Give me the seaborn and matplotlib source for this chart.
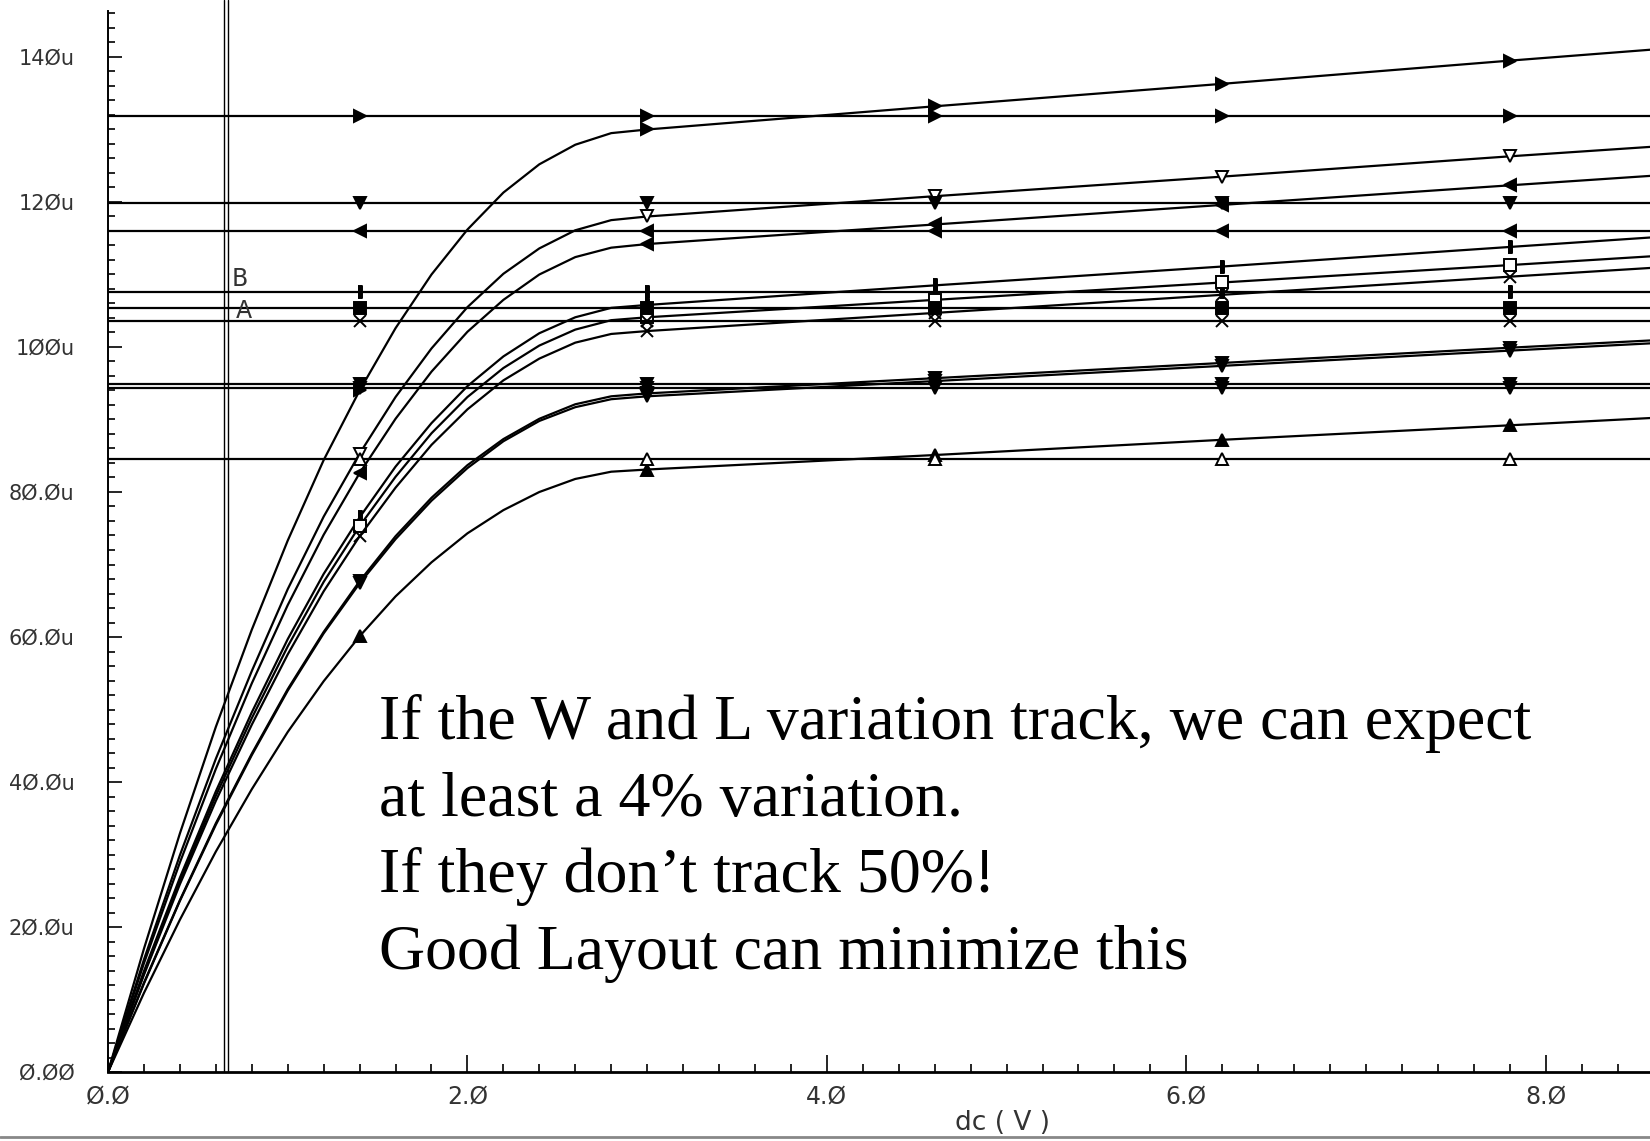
import numpy as np
import pandas as pd
import seaborn as sns
import matplotlib.pyplot as plt
from matplotlib.lines import Line2D

# sweep voltage (V) of the dc analysis, markers sit at 1.4 / 3.0 / 4.6 / 6.2 / 7.8
vds = [0.0, 0.2, 0.4, 0.6, 0.8, 1.0, 1.2, 1.4, 1.6, 1.8, 2.0, 2.2, 2.4, 2.6, 2.8, 3.0,
       4.6, 6.2, 7.8, 8.58]
mark_x = [1.4, 3.0, 4.6, 6.2, 7.8]

# drain current of the nine rising traces (uA)
id_1 = [0, 17.0, 32.9, 47.6, 61.0, 73.3, 84.4, 94.0, 102.6, 110.0, 116.2, 121.3, 125.2, 127.9, 129.5, 130.0,
        133.2, 136.3, 139.5, 141.0]
id_2 = [0, 15.5, 29.9, 43.2, 55.3, 66.6, 76.6, 85.3, 93.1, 99.8, 105.5, 110.1, 113.6, 116.1, 117.5, 118.0,
        120.8, 123.5, 126.3, 127.6]
id_3 = [0, 15.0, 28.9, 41.8, 53.6, 64.4, 74.1, 82.6, 90.1, 96.6, 102.1, 106.5, 110.0, 112.4, 113.7, 114.2,
        116.9, 119.6, 122.3, 123.6]
id_4 = [0, 13.9, 26.8, 38.7, 49.6, 59.7, 68.7, 76.5, 83.5, 89.5, 94.6, 98.7, 101.9, 104.1, 105.4, 105.8,
        108.5, 111.1, 113.8, 115.1]
id_5 = [0, 13.6, 26.3, 38.1, 48.8, 58.7, 67.6, 75.3, 82.1, 88.1, 93.1, 97.1, 100.2, 102.4, 103.7, 104.1,
        106.5, 108.9, 111.3, 112.5]
id_6 = [0, 13.4, 25.9, 37.4, 47.9, 57.6, 66.3, 73.9, 80.6, 86.5, 91.4, 95.4, 98.4, 100.6, 101.8, 102.2,
        104.7, 107.2, 109.7, 110.9]
id_7 = [0, 12.3, 23.7, 34.3, 43.9, 52.8, 60.7, 67.7, 73.9, 79.2, 83.7, 87.3, 90.1, 92.1, 93.2, 93.6,
        95.7, 97.8, 99.9, 100.9]
id_8 = [0, 12.2, 23.6, 34.1, 43.7, 52.6, 60.5, 67.4, 73.5, 78.8, 83.3, 87.0, 89.8, 91.7, 92.8, 93.2,
        95.3, 97.4, 99.5, 100.5]
id_9 = [0, 10.9, 21.0, 30.4, 39.0, 46.9, 53.9, 60.1, 65.6, 70.3, 74.3, 77.5, 80.0, 81.8, 82.8, 83.1,
        85.1, 87.2, 89.2, 90.2]
curves = [id_1, id_2, id_3, id_4, id_5, id_6, id_7, id_8, id_9]

# the flat traces (uA), one per rising trace
flat_x = [0.0, 1.4, 3.0, 4.6, 6.2, 7.8, 8.58]
flat_levels = [131.8, 119.9, 116.0, 107.6, 105.4, 103.6, 94.9, 94.3, 84.6]

cursor_x = 0.658

ytick_vals = [0, 20, 40, 60, 80, 100, 120, 140]
ytick_labels = ["Ø.ØØ", "2Ø.Øu", "4Ø.Øu", "6Ø.Øu", "8Ø.Øu", "1ØØu", "12Øu", "14Øu"]
xtick_vals = [0, 2, 4, 6, 8]
xtick_labels = ["Ø.Ø", "2.Ø", "4.Ø", "6.Ø", "8.Ø"]

note_lines = ["If the W and L variation track, we can expect",
              "at least a 4% variation.",
              "If they don\u2019t track 50%!",
              "Good Layout can minimize this"]

# long table for seaborn
rows = []
for k, ys in enumerate(curves):
    for x, y in zip(vds, ys):
        rows.append((k, "curve", x, y))
for k, lev in enumerate(flat_levels):
    for x in flat_x:
        rows.append((k, "flat", x, lev))
df = pd.DataFrame(rows, columns=["trace", "kind", "vds", "id"])

sns.set_theme(style="white")
plt.rcParams['font.family'] = ['DejaVu Sans']

fig = plt.figure(figsize=(16.5, 11.41), dpi=100)
ax = fig.add_axes([108 / 1650, 1 - 1072 / 1141, 1 - 108 / 1650, 1072 / 1141])

rect = [(-0.35, -1), (0.35, -1), (0.35, 1), (-0.35, 1)]
markers = ['>', 'v', '<', rect, 's', 'x', 'v', 'v', '^']
curve_open = [False, True, False, False, True, False, False, False, False]
flat_open = [False, False, False, False, False, False, False, False, True]

for k in range(len(curves)):
    for kind, is_open in (("curve", curve_open[k]), ("flat", flat_open[k])):
        sub = df[(df.trace == k) & (df.kind == kind)].reset_index(drop=True)
        idx = [i for i, x in enumerate(sub.vds) if np.any(np.isclose(x, mark_x))]
        sns.lineplot(data=sub, x="vds", y="id", ax=ax, color="black", linewidth=1.6,
                     marker=markers[k], markevery=idx, markersize=8,
                     mfc="white" if is_open else "black", mec="black", mew=1.4)

# double cursor line with its labels
ax.axvline(cursor_x - 0.01, color="black", lw=1.0)
ax.axvline(cursor_x + 0.01, color="black", lw=1.0)
ax.text(0.69, 109.4, "B", fontsize=17, color="#333", va="center")
ax.text(0.71, 104.9, "A", fontsize=17, color="#333", va="center")

ax.set_xlim(0, 8.58)
ax.set_ylim(0, 1072 / 7.25)
ax.set_yticks(ytick_vals)
ax.set_yticklabels(ytick_labels)
ax.set_xticks(xtick_vals)
ax.set_xticklabels(xtick_labels)
ax.set_yticks(np.arange(0, 147, 2), minor=True)
ax.set_xticks(np.arange(0, 8.6, 0.2), minor=True)
ax.tick_params(axis="both", which="both", direction="in", colors="black", width=1.2,
               bottom=True, left=True)
ax.tick_params(axis="y", which="major", length=10, pad=24, labelsize=15, labelcolor="#333")
ax.tick_params(axis="y", which="minor", length=5)
ax.tick_params(axis="x", which="major", length=12, pad=9, labelsize=17, labelcolor="#333")
ax.tick_params(axis="x", which="minor", length=6)
ax.set_ylabel("")
ax.set_xlabel("dc ( V )", fontsize=19, color="#333")
ax.xaxis.set_label_coords(0.58, -0.048)
ax.xaxis.label.set_va("center")

for side in ("top", "right"):
    ax.spines[side].set_visible(False)
ax.spines["left"].set_bounds(0, 146.4)
ax.spines["left"].set_color("black")
ax.spines["bottom"].set_color("black")
ax.spines["left"].set_linewidth(1.4)
ax.spines["bottom"].set_linewidth(2)

# big annotation in serif
for i, line in enumerate(note_lines):
    fig.text(379 / 1650, 1 - (739 + 76.7 * i) / 1141, line, fontsize=46,
             family=["Liberation Serif", "DejaVu Serif"], color="black", va="baseline")

fig.add_artist(Line2D([0, 1], [1 - 1137 / 1141] * 2, color="#888", lw=2, transform=fig.transFigure))

fig.savefig("out.png", dpi=100)
